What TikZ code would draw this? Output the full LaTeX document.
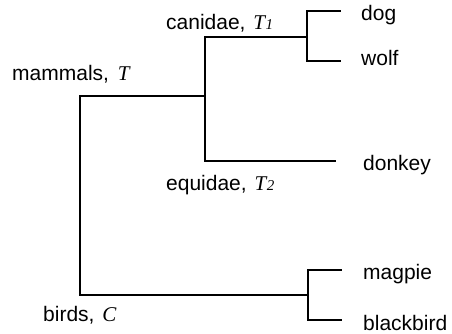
\documentclass[tikz,border=0pt]{standalone}
\usepackage{fontspec}
\setmainfont{Liberation Sans}
\newfontfamily\serifit{Liberation Serif}
\newcommand{\Tv}[1]{{\serifit\itshape T\kern0.5pt{\fontsize{15}{15}\selectfont #1}}}
\begin{document}
\begin{tikzpicture}[x=1pt,y=-1pt,
  branch/.style={line width=2.2pt,line cap=rect},
  lbl/.style={anchor=base west,inner sep=0pt,font=\fontsize{21}{24}\selectfont}]
\useasboundingbox (0,0) rectangle (452,333);
% junctions
\coordinate (r1) at (80,96);
\coordinate (r2) at (80,295);
\coordinate (c0) at (205,96);
\coordinate (c1) at (205,37);
\coordinate (c2) at (205,161);
\coordinate (k0) at (307,37);
\coordinate (k1) at (307,11);
\coordinate (k2) at (307,61);
\coordinate (dogE) at (340,11);
\coordinate (wolfE) at (340,61);
\coordinate (donkeyE) at (335,161);
\coordinate (b0) at (308,295);
\coordinate (b1) at (308,270);
\coordinate (b2) at (308,320);
\coordinate (magE) at (341,270);
\coordinate (blkE) at (341,320);
% branches
\draw[branch] (r1) -- (r2);
\draw[branch] (r1) -- (c0);
\draw[branch] (c1) -- (c2);
\draw[branch] (c1) -- (k0);
\draw[branch] (k1) -- (k2);
\draw[branch] (k1) -- (dogE);
\draw[branch] (k2) -- (wolfE);
\draw[branch] (c2) -- (donkeyE);
\draw[branch] (r2) -- (b0);
\draw[branch] (b1) -- (b2);
\draw[branch] (b1) -- (magE);
\draw[branch] (b2) -- (blkE);
% labels
\node[lbl] (mammals) at (12,80) {mammals,\kern3pt\ {\serifit\itshape T}};
\node[lbl] (canidae) at (166,29) {canidae,\kern2pt\ \Tv{1}};
\node[lbl] (equidae) at (166,190) {equidae,\kern2pt\ \Tv{2}};
\node[lbl] (birds) at (43,321) {birds,\kern2pt\ {\serifit\itshape C}};
\node[lbl] (dog) at (361,20) {dog};
\node[lbl] (wolf) at (361,65) {wolf};
\node[lbl] (donkey) at (363,170) {donkey};
\node[lbl] (magpie) at (363,279) {magpie};
\node[lbl] (blackbird) at (363,330) {blackbird};
\end{tikzpicture}
\end{document}
